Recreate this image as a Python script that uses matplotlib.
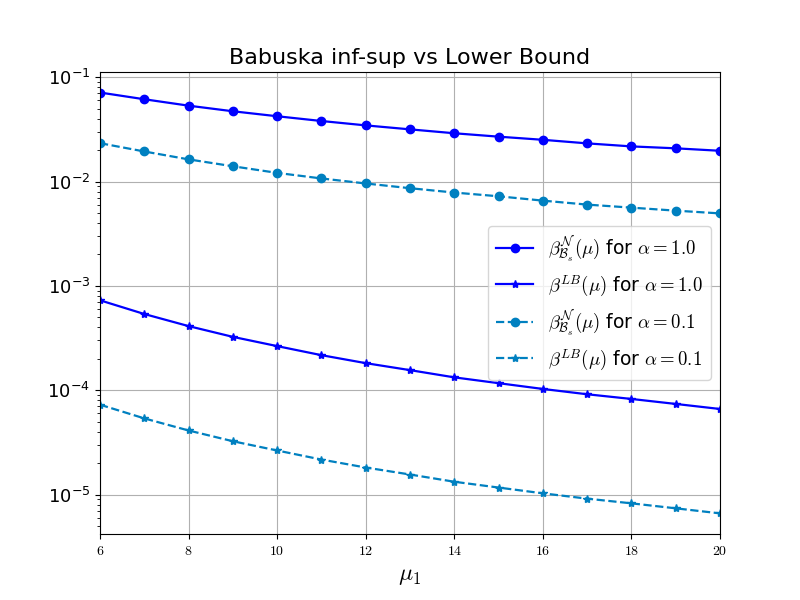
import matplotlib

matplotlib.use("Agg")
import matplotlib.pyplot as plt
from matplotlib.ticker import FuncFormatter

plt.rcParams["mathtext.fontset"] = "cm"

mu1 = [6, 7, 8, 9, 10, 11, 12, 13, 14, 15, 16, 17, 18, 19, 20]

# alpha = 1.0
beta_bs_a1 = [0.0712, 0.0614, 0.0533, 0.0471, 0.0422, 0.0380, 0.0345, 0.0316,
              0.0290, 0.0269, 0.0251, 0.0232, 0.0217, 0.0208, 0.0197]
beta_lb_a1 = [7.28e-4, 5.38e-4, 4.12e-4, 3.25e-4, 2.65e-4, 2.17e-4, 1.82e-4, 1.56e-4,
              1.33e-4, 1.17e-4, 1.03e-4, 9.16e-5, 8.26e-5, 7.40e-5, 6.62e-5]

# alpha = 0.1
beta_bs_a01 = [0.0233, 0.0194, 0.0163, 0.0140, 0.0121, 0.0107, 0.00958, 0.00863,
               0.00784, 0.00722, 0.00656, 0.00601, 0.00562, 0.00526, 0.00495]
beta_lb_a01 = [7.28e-5, 5.38e-5, 4.12e-5, 3.25e-5, 2.65e-5, 2.17e-5, 1.82e-5, 1.56e-5,
               1.33e-5, 1.17e-5, 1.03e-5, 9.16e-6, 8.26e-6, 7.40e-6, 6.62e-6]

c1 = "#0000ff"
c2 = "#0080c0"

fig, ax = plt.subplots(figsize=(8, 6), dpi=100)
ax.semilogy(mu1, beta_bs_a1, "-o", color=c1, lw=1.6, ms=6,
            label=r"$\beta^{\mathcal{N}}_{\mathcal{B}_s}(\mu)$ for $\alpha = \mathsf{1.0}$")
ax.semilogy(mu1, beta_lb_a1, "-*", color=c1, lw=1.6, ms=6,
            label=r"$\beta^{LB}(\mu)$ for $\alpha = \mathsf{1.0}$")
ax.semilogy(mu1, beta_bs_a01, "--o", color=c2, lw=1.6, ms=6,
            label=r"$\beta^{\mathcal{N}}_{\mathcal{B}_s}(\mu)$ for $\alpha = \mathsf{0.1}$")
ax.semilogy(mu1, beta_lb_a01, "--*", color=c2, lw=1.6, ms=6,
            label=r"$\beta^{LB}(\mu)$ for $\alpha = \mathsf{0.1}$")

ax.set_xlim(6, 20)
ax.set_ylim(4.2e-6, 0.112)
ax.set_xticks(range(6, 21, 2))
ax.xaxis.set_major_formatter(FuncFormatter(lambda v, p: r"$%d$" % v))
ax.tick_params(axis="x", labelsize=10)
ax.tick_params(axis="y", labelsize=13)
ax.grid(True, which="major", color="#b0b0b0")
ax.set_xlabel(r"$\mu_1$", fontsize=17)
ax.set_title("Babuska inf-sup vs Lower Bound", fontsize=16)
ax.legend(loc="center right", fontsize=13.5)

fig.savefig("out.png", dpi=100)
